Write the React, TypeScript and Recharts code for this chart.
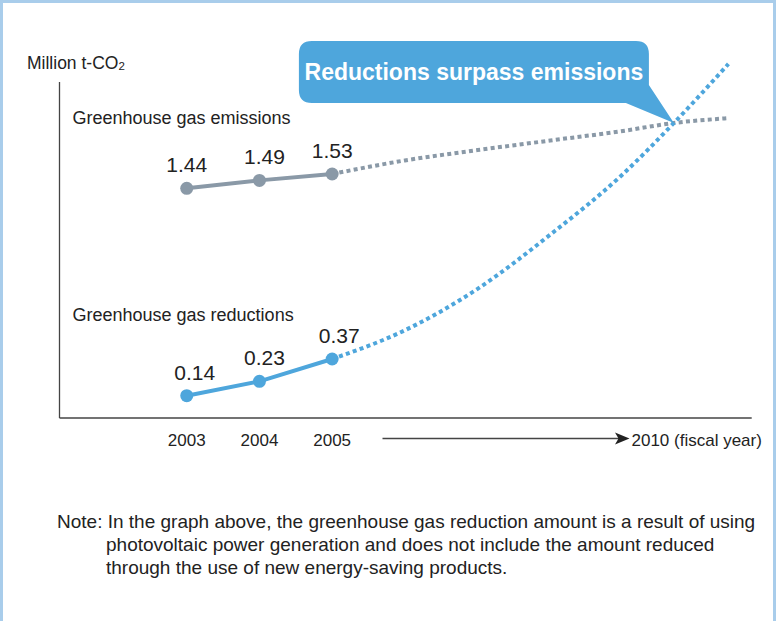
import React from 'react'
import { LineChart, Line, XAxis, YAxis, ReferenceLine, ReferenceDot, LabelList } from 'recharts'

// Positions on the x axis: 2003 = 0, 2004 = 1, 2005 = 2, the rest is the projection towards 2010
const years = ['2003', '2004', '2005']
const actualSteps = [0, 1, 2]
const emissionsActual = [1.44, 1.49, 1.53]
const reductionsActual = [0.14, 0.23, 0.37]

const projectionSteps = [2, 3, 4, 5, 6, 6.7, 7.45]
const emissionsProjection = [1.53, 1.615, 1.68, 1.74, 1.8, 1.85, 1.88]
const reductionsProjection = [0.37, 0.55, 0.81, 1.15, 1.53, 1.85, 2.22]

const crossing = { x: 6.7, y: 1.85 }

const GRAY = '#8a99a7'
const BLUE = '#4ea6dc'
const AXIS = '#444'
const FONT = '"Liberation Sans", Arial, Helvetica, sans-serif'

const X_DOMAIN = [-1.75, 7.77]
const Y_DOMAIN = [0, 2.3]
const Y_AXIS_TOP = 2.107

const toRows = (xs: number[], ys: number[]) => xs.map((x, i) => ({ x, v: ys[i] }))

const emissionsRows = toRows(actualSteps, emissionsActual)
const reductionsRows = toRows(actualSteps, reductionsActual)
const emissionsProjRows = toRows(projectionSteps, emissionsProjection)
const reductionsProjRows = toRows(projectionSteps, reductionsProjection)

// value label above each measured point
const ValueLabel = (props: any) => {
    const { x, y, value, index, dxs } = props
    return (
        <text
            x={x + (dxs ? dxs[index] : 0)}
            y={y - 16}
            textAnchor="middle"
            fontSize={21}
            fill="#222"
            fontFamily={FONT}
        >
            {Number(value).toFixed(2)}
        </text>
    )
}

// speech bubble whose tail points at the crossing
const Bubble = (props: any) => {
    const { cx, cy } = props
    const left = cx - 375
    const right = cx - 25
    const top = cy - 82
    const bottom = cy - 20
    const r = 13
    const d = [
        `M ${left + r} ${top}`,
        `L ${right - r} ${top}`,
        `Q ${right} ${top} ${right} ${top + r}`,
        `L ${right} ${cy - 38}`,
        `L ${cx} ${cy}`,
        `L ${cx - 48} ${bottom}`,
        `L ${left + r} ${bottom}`,
        `Q ${left} ${bottom} ${left} ${bottom - r}`,
        `L ${left} ${top + r}`,
        `Q ${left} ${top} ${left + r} ${top}`,
        'Z',
    ].join(' ')
    return (
        <g>
            <path d={d} fill={BLUE} />
            <text
                x={(left + right) / 2}
                y={cy - 43}
                textAnchor="middle"
                fontSize={23}
                fontWeight="bold"
                fill="#fff"
                fontFamily={FONT}
            >
                Reductions surpass emissions
            </text>
        </g>
    )
}

export default function App() {
    return (
        <div
            style={{
                position: 'absolute',
                top: 0,
                left: 0,
                width: 776,
                height: 621,
                boxSizing: 'border-box',
                borderTop: '3px solid #a9cdeb',
                borderLeft: '3px solid #a9cdeb',
                borderRight: '3px solid #a9cdeb',
                background: '#fff',
                fontFamily: FONT,
                overflow: 'hidden',
            }}
        >
            <div style={{ position: 'absolute', top: -3, left: -3 }}>
                <LineChart
                    width={776}
                    height={460}
                    margin={{ top: 51.2, right: 24.3, left: 59.5, bottom: 12 }}
                >
                    <XAxis
                        type="number"
                        dataKey="x"
                        domain={X_DOMAIN}
                        allowDataOverflow
                        ticks={actualSteps}
                        tickFormatter={(v) => years[v]}
                        tickLine={false}
                        tickMargin={10}
                        height={30}
                        axisLine={{ stroke: AXIS, strokeWidth: 1.3 }}
                        tick={{ fontSize: 17, fill: '#222', fontFamily: FONT }}
                    />
                    <YAxis type="number" dataKey="v" domain={Y_DOMAIN} hide />
                    <ReferenceLine
                        segment={[{ x: X_DOMAIN[0], y: 0 }, { x: X_DOMAIN[0], y: Y_AXIS_TOP }]}
                        stroke={AXIS}
                        strokeWidth={1.3}
                    />

                    <Line
                        data={emissionsProjRows}
                        dataKey="v"
                        type="monotone"
                        stroke={GRAY}
                        strokeWidth={4}
                        strokeDasharray="4 3.3"
                        dot={false}
                        isAnimationActive={false}
                    />
                    <Line
                        data={reductionsProjRows}
                        dataKey="v"
                        type="monotone"
                        stroke={BLUE}
                        strokeWidth={4}
                        strokeDasharray="4 3.3"
                        dot={false}
                        isAnimationActive={false}
                    />
                    <Line
                        data={emissionsRows}
                        dataKey="v"
                        type="linear"
                        stroke={GRAY}
                        strokeWidth={4}
                        dot={{ r: 6.5, fill: GRAY, stroke: 'none' }}
                        isAnimationActive={false}
                    >
                        <LabelList dataKey="v" content={(p: any) => <ValueLabel {...p} dxs={[0, 5, 0]} />} />
                    </Line>
                    <Line
                        data={reductionsRows}
                        dataKey="v"
                        type="linear"
                        stroke={BLUE}
                        strokeWidth={4}
                        dot={{ r: 6.5, fill: BLUE, stroke: 'none' }}
                        isAnimationActive={false}
                    >
                        <LabelList dataKey="v" content={(p: any) => <ValueLabel {...p} dxs={[8, 5, 7]} />} />
                    </Line>

                    <ReferenceDot x={crossing.x} y={crossing.y} shape={Bubble} />
                </LineChart>
            </div>

            <svg
                width={776}
                height={621}
                style={{ position: 'absolute', top: -3, left: -3, pointerEvents: 'none' }}
            >
                <text x={27} y={69} fontSize={17.5} fill="#222" fontFamily={FONT}>
                    Million t-CO<tspan fontSize={11.5} dy={1}>2</tspan>
                </text>
                <text x={72.5} y={124} fontSize={18} fill="#222" fontFamily={FONT}>
                    Greenhouse gas emissions
                </text>
                <text x={72.5} y={321} fontSize={18} fill="#222" fontFamily={FONT}>
                    Greenhouse gas reductions
                </text>
                <line x1={382.5} y1={438.5} x2={622} y2={438.5} stroke={AXIS} strokeWidth={1.3} />
                <path d="M 629.5 438.5 L 615 432.5 L 618.5 438.5 L 615 444.5 Z" fill="#222" />
                <text x={631.5} y={445.7} fontSize={17} fill="#222" fontFamily={FONT}>
                    2010 (fiscal year)
                </text>
                <text fontSize={19} fill="#222" fontFamily={FONT}>
                    <tspan x={57} y={528}>
                        Note: In the graph above, the greenhouse gas reduction amount is a result of using
                    </tspan>
                    <tspan x={106} y={551}>
                        photovoltaic power generation and does not include the amount reduced
                    </tspan>
                    <tspan x={106} y={574}>
                        through the use of new energy-saving products.
                    </tspan>
                </text>
            </svg>
        </div>
    )
}
